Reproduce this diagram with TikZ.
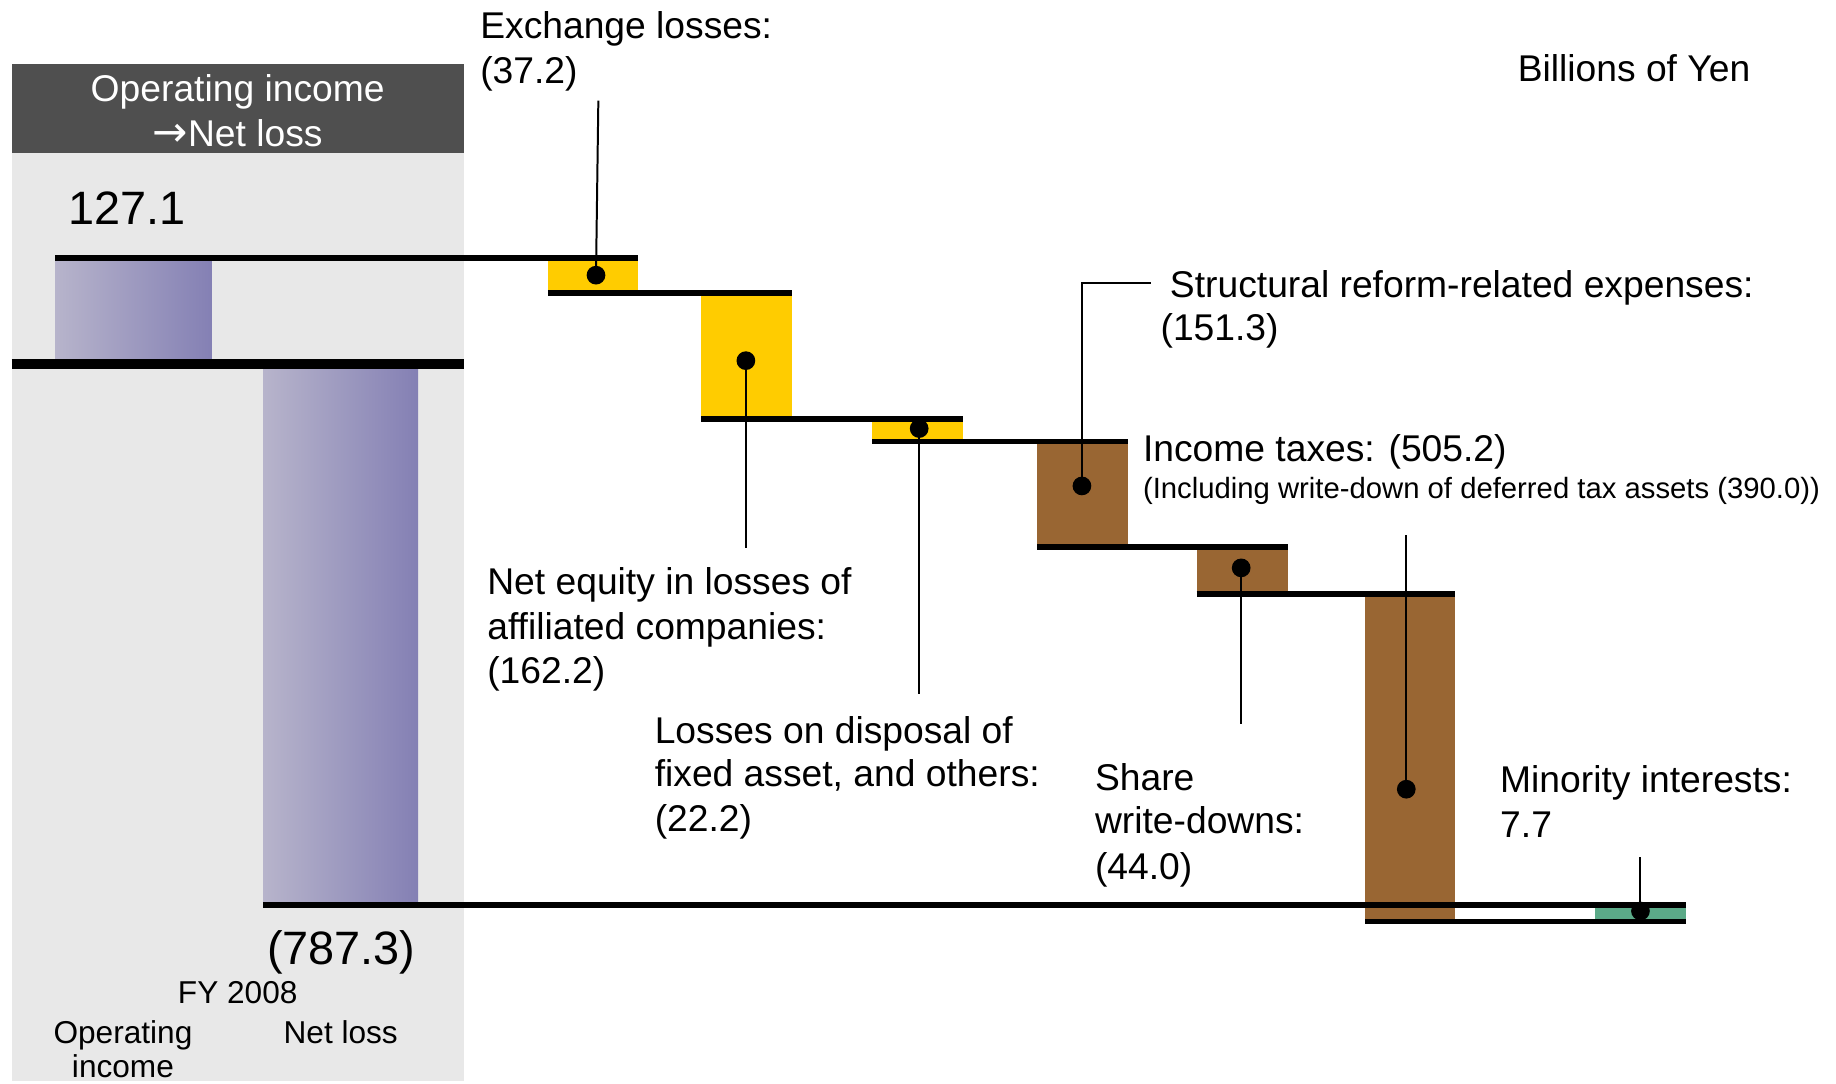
\documentclass[tikz,border=0pt]{standalone}
\usepackage{fontspec}
\setmainfont{Liberation Sans}
\newfontfamily\arrowfont{DejaVu Sans}
\definecolor{panelgray}{HTML}{E8E8E8}
\definecolor{headgray}{HTML}{4F4F4F}
\definecolor{gradL}{HTML}{B7B4CB}
\definecolor{gradR}{HTML}{8480B4}
\definecolor{ylw}{HTML}{FFCC00}
\definecolor{brn}{HTML}{996633}
\definecolor{grn}{HTML}{5BAA88}
\begin{document}
\begin{tikzpicture}[x=1pt,y=-1pt,
  lbl/.style={anchor=base west, inner sep=0, font=\fontsize{31.8}{38}\selectfont},
  sml/.style={anchor=base west, inner sep=0, font=\fontsize{25}{30}\selectfont},
  bignum/.style={anchor=base west, inner sep=0, font=\fontsize{40}{48}\selectfont},
  captxt/.style={anchor=base, inner sep=0, font=\fontsize{27}{32}\selectfont},
  headtxt/.style={anchor=base, inner sep=0, text=white, font=\fontsize{31.8}{38}\selectfont},
  stepline/.style={line width=5pt},
  thickline/.style={line width=8pt},
  leader/.style={line width=1.7pt},
  dotmark/.style={circle, fill=black, inner sep=0, minimum size=16pt},
  gradbar/.style={left color=gradL, right color=gradR}]
\useasboundingbox (0,0) rectangle (1568,925);
% left panel
\fill[panelgray] (10,55) rectangle (396,923);
\fill[headgray] (10,55) rectangle (396,131);
\node[headtxt] (h1) at (203,87) {Operating income};
\node[headtxt] (h2) at (203,125) {{\arrowfont\fontsize{36}{40}\selectfont →}Net loss};
% gradient bars
\fill[gradbar] (47,220) rectangle (181,311);
\fill[gradbar] (225,311) rectangle (357,773);
% step boxes
\fill[ylw] (468,220) rectangle (545,250);
\fill[ylw] (599,250) rectangle (676,358);
\fill[ylw] (745,358) rectangle (822,377);
\fill[brn] (886,377) rectangle (963,467);
\fill[brn] (1022,467) rectangle (1100,507);
\fill[brn] (1166,507) rectangle (1243,787);
\fill[grn] (1362,773) rectangle (1440,787);
% level lines
\draw[stepline] (47,220) -- (545,220);
\draw[thickline] (10,311) -- (396,311);
\draw[stepline] (468,250) -- (676,250);
\draw[stepline] (599,358) -- (822,358);
\draw[stepline] (745,377) -- (963,377);
\draw[stepline] (886,467) -- (1100,467);
\draw[stepline] (1022,507) -- (1243,507);
\draw[stepline] (225,773) -- (1440,773);
\draw[stepline] (1166,787) -- (1440,787);
% dots
\node[dotmark] (d1) at (509,235) {};
\node[dotmark] (d2) at (637,308) {};
\node[dotmark] (d3) at (785,366) {};
\node[dotmark] (d4) at (924,415) {};
\node[dotmark] (d5) at (1060,485) {};
\node[dotmark] (d6) at (1201,674) {};
\node[dotmark] (d7) at (1401,778) {};
% leader ends
\coordinate (e1) at (511,86);
\coordinate (e2) at (637,468);
\coordinate (e3) at (785,593);
\coordinate (e4) at (983,242);
\coordinate (e5) at (1060,618);
\coordinate (e6) at (1201,457);
\coordinate (e7) at (1401,732);
\draw[leader] (d1.center) -- (e1);
\draw[leader] (d2.center) -- (e2);
\draw[leader] (d3.center) -- (e3);
\draw[leader] (d4.center) |- (e4);
\draw[leader] (d5.center) -- (e5);
\draw[leader] (d6.center) -- (e6);
\draw[leader] (d7.center) -- (e7);
% labels
\node[lbl] (t1a) at (410,33) {Exchange losses:};
\node[lbl] (t1b) at (410,71) {(37.2)};
\node[lbl] (yen) at (1296,70) {Billions of Yen};
\node[bignum] (v1) at (58,192) {127.1};
\node[bignum] (v2) at (228,824) {(787.3)};
\node[lbl] (t4a) at (999,254) {Structural reform-related expenses:};
\node[lbl] (t4b) at (991,291) {(151.3)};
\node[lbl] (t6a) at (976,394) {Income taxes: (505.2)};
\node[sml] (t6b) at (976,426) {(Including write-down of deferred tax assets (390.0))};
\node[lbl] (t2a) at (416,508) {Net equity in losses of};
\node[lbl] (t2b) at (416,546) {affiliated companies:};
\node[lbl] (t2c) at (416,584) {(162.2)};
\node[lbl] (t3a) at (559,635) {Losses on disposal of};
\node[lbl] (t3b) at (559,672) {fixed asset, and others:};
\node[lbl] (t3c) at (559,710) {(22.2)};
\node[lbl] (t5a) at (935,675) {Share};
\node[lbl] (t5b) at (935,712) {write-downs:};
\node[lbl] (t5c) at (935,751) {(44.0)};
\node[lbl] (t7a) at (1281,677) {Minority interests:};
\node[lbl] (t7b) at (1281,715) {7.7};
\node[captxt] (fy) at (203,857) {FY 2008};
\node[captxt] (c1a) at (105,891) {Operating};
\node[captxt] (c1b) at (105,920) {income};
\node[captxt] (c2) at (291,891) {Net loss};
\end{tikzpicture}
\end{document}
